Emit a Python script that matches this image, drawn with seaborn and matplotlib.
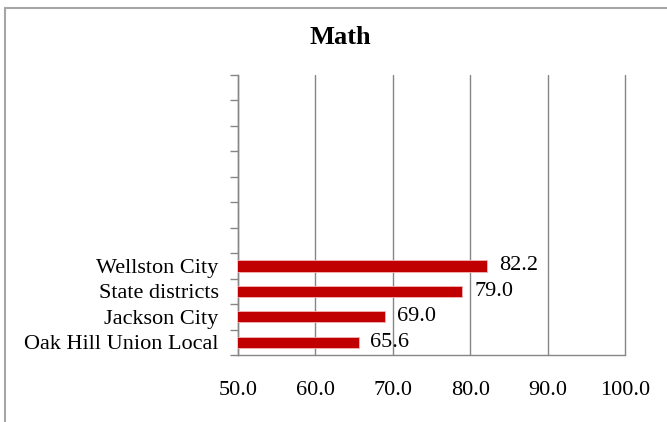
import pandas as pd
import seaborn as sns
import matplotlib.pyplot as plt
from matplotlib.patches import Rectangle
from matplotlib.ticker import FixedLocator

districts = ["Wellston City", "State districts", "Jackson City", "Oak Hill Union Local"]
scores = [82.2, 79.0, 69.0, 65.6]
x_ticks = [50, 60, 70, 80, 90, 100]
empty_slots = 7

df = pd.DataFrame({"District": districts, "Score": scores})

sns.set_theme(style="white")
plt.rcParams["font.family"] = ["Liberation Serif", "DejaVu Serif"]
plt.rcParams["text.color"] = "black"
plt.rcParams["xtick.labelcolor"] = "black"
plt.rcParams["ytick.labelcolor"] = "black"

fig = plt.figure(figsize=(6.67, 4.22), dpi=100)
ax = fig.add_axes([238 / 667, 1 - 355 / 422, 387 / 667, 280 / 422])

sns.barplot(
    data=df,
    x="Score",
    y="District",
    orient="h",
    color="#C00000",
    saturation=1,
    width=0.44,
    edgecolor="#F2B5B5",
    linewidth=0.6,
    ax=ax,
    zorder=3
)

ax.set_xlim(50, 100)
ax.set_ylim(len(districts) - 0.5, -0.5 - empty_slots)
ax.set_xticks(x_ticks)
ax.set_xticklabels([f"{t:.1f}" for t in x_ticks], fontsize=16)
ax.tick_params(axis="x", length=6, width=1, color="#868686", pad=13, labelcolor="black")
ax.tick_params(axis="y", which="major", length=0, labelsize=16, pad=14, labelcolor="black")
ax.yaxis.set_minor_locator(
    FixedLocator([i - 0.5 for i in range(-empty_slots, len(districts) + 1)])
)
ax.tick_params(axis="y", which="minor", length=6, width=1, color="#868686", left=True)
ax.set_xlabel("")
ax.set_ylabel("")

ax.grid(axis="x", color="#868686", linewidth=1, zorder=0)
ax.set_axisbelow(True)
for gl in ax.xaxis.get_gridlines():
    gl.set_clip_on(False)
for side in ["top", "right"]:
    ax.spines[side].set_visible(False)
for side in ["left", "bottom"]:
    ax.spines[side].set_color("#868686")
    ax.spines[side].set_linewidth(1)

for i, v in enumerate(scores):
    ax.text(v + 1.5, i, f"{v:.1f}", va="center", ha="left", fontsize=16,
            color="black", zorder=4)

fig.text(340 / 667, 1 - 38 / 422, "Math", ha="center", va="center",
         fontsize=19, fontweight="bold", color="black")

fig.patches.append(
    Rectangle((5 / 667, -0.1), 1.2, 1.1 - 8 / 422, transform=fig.transFigure,
              fill=False, edgecolor="#A6A6A6", linewidth=1.5)
)

fig.savefig("out.png", dpi=100)
